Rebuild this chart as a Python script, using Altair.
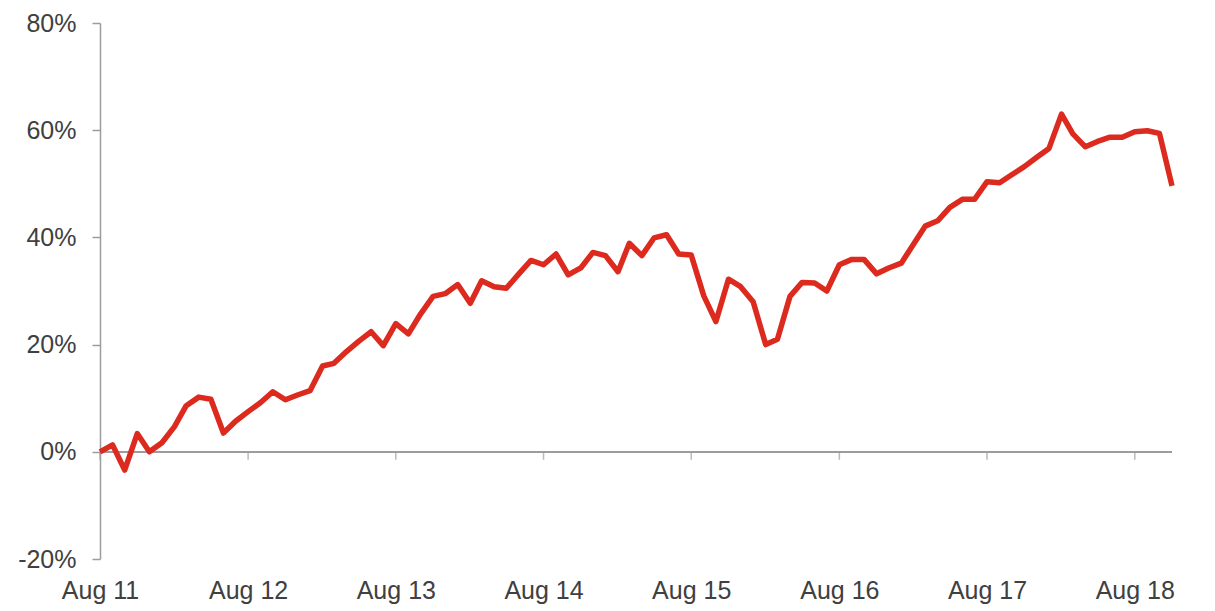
import altair as alt
import pandas as pd

start = "2011-08-01"
values = [0.0, 1.3, -3.4, 3.4, 0.0, 1.7, 4.7, 8.6, 10.2, 9.8,
          3.5, 5.7, 7.5, 9.2, 11.2, 9.7, 10.6, 11.4, 16.0, 16.5,
          18.7, 20.6, 22.4, 19.8, 23.9, 22.0, 25.7, 29.0, 29.5, 31.2,
          27.7, 31.9, 30.8, 30.5, 33.2, 35.7, 34.9, 36.9, 33.0, 34.3,
          37.2, 36.6, 33.6, 38.9, 36.6, 39.9, 40.5, 36.9, 36.7, 29.1,
          24.3, 32.2, 30.8, 28.0, 20.0, 21.0, 29.0, 31.6, 31.5, 30.0,
          34.9, 35.9, 35.9, 33.2, 34.3, 35.2, 38.8, 42.1, 43.1, 45.6,
          47.1, 47.1, 50.4, 50.2, 51.7, 53.2, 54.9, 56.6, 63.0, 59.3,
          56.9, 57.9, 58.7, 58.7, 59.7, 59.9, 59.4, 49.6]
dates = pd.date_range(start, periods=len(values), freq="MS")
tick_dates = ["2011-08-01", "2012-08-01", "2013-08-01", "2014-08-01",
              "2015-08-01", "2016-08-01", "2017-08-01", "2018-08-01"]
y_ticks = [-0.2, 0, 0.2, 0.4, 0.6, 0.8]

df = pd.DataFrame({"date": dates, "value": [v / 100 for v in values]})
ticks_df = pd.DataFrame({"date": pd.to_datetime(tick_dates)})

FONT = "Liberation Sans"
GREY = "#9c9c9c"
TXT = "#404040"

xscale = alt.Scale(domain=[dates[0].isoformat(), dates[-1].isoformat()])
yscale = alt.Scale(domain=[-0.2, 0.8])

line = alt.Chart(df).mark_line(color="#DC2A1E", strokeWidth=5.5, strokeJoin="round").encode(
    x=alt.X("date:T", scale=xscale, title=None,
            axis=alt.Axis(values=tick_dates,
                          labelExpr="'Aug ' + timeFormat(datum.value, '%y')",
                          domain=False, ticks=False, grid=False,
                          labelFontSize=25, labelFont=FONT, labelColor=TXT,
                          labelPadding=19, labelFlush=False)),
    y=alt.Y("value:Q", scale=yscale, title=None,
            axis=alt.Axis(values=y_ticks,
                          labelExpr="toString(round(datum.value * 100)) + '%'",
                          domainColor=GREY, domainWidth=1.5, tickColor=GREY,
                          tickWidth=1.5, tickSize=8, grid=False,
                          labelFontSize=25, labelFont=FONT, labelColor=TXT,
                          labelPadding=16)),
)

zero = alt.Chart(df).mark_rule(color=GREY, strokeWidth=1.5).encode(y=alt.datum(0))

xticks = alt.Chart(ticks_df).mark_tick(orient="vertical", size=8, thickness=1.5,
                                       color=GREY, yOffset=4).encode(
    x=alt.X("date:T", scale=xscale), y=alt.datum(0)
)

chart = alt.layer(zero, xticks, line).properties(
    width=1072, height=536,
    autosize=alt.AutoSizeParams(type="none"),
    padding={"left": 92, "top": 15, "right": 10, "bottom": 50},
).configure_view(stroke=None)

chart.save("out.html", embed_options={"renderer": "svg", "actions": False})
